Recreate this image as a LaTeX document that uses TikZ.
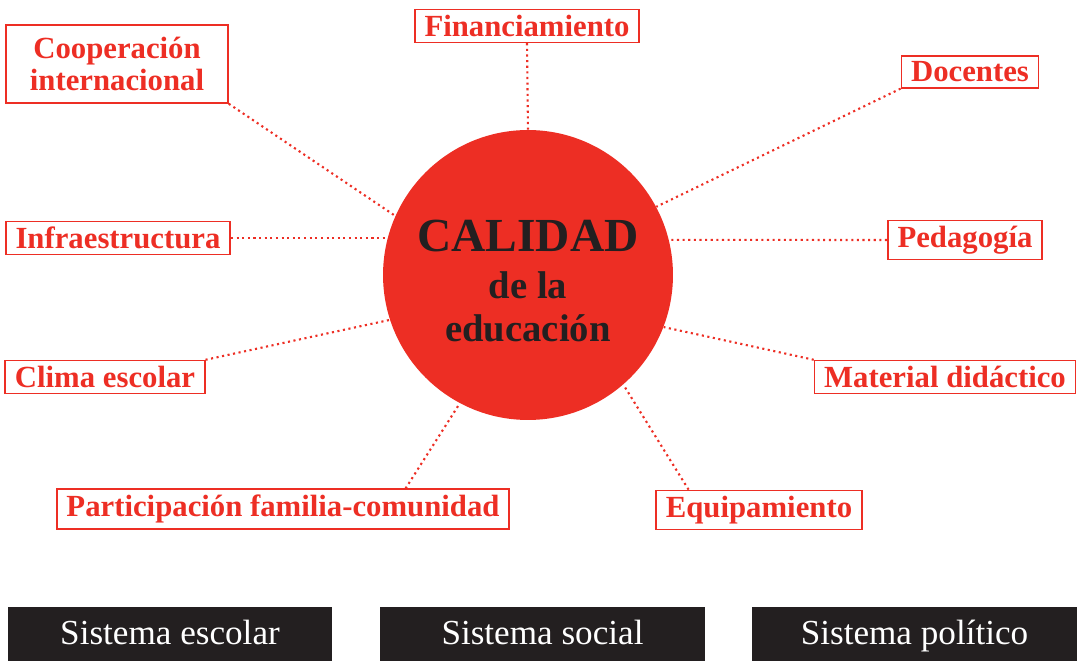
\documentclass[tikz,border=0pt]{standalone}
\usepackage{fontspec}
\setmainfont{Liberation Serif}
\definecolor{calred}{RGB}{237,46,36}
\definecolor{sysdark}{RGB}{35,31,32}
\usetikzlibrary{calc}
\usetikzlibrary{positioning}
\tikzset{
  factor/.style={draw=calred, line width=0.9pt, text=calred,
    font=\bfseries\fontsize{17.5}{18}\selectfont, inner xsep=5.5pt, inner ysep=3.2pt},
  link/.style={calred, dotted, line width=1.2pt},
  sistema/.style={fill=sysdark, text=white, font=\fontsize{20}{22}\selectfont,
    minimum width=6.5cm, minimum height=1.08cm, inner sep=0pt,
    text height=14pt, text depth=2pt}
}

\begin{document}
\begin{tikzpicture}[x=0.02cm, y=-0.02cm]
  \useasboundingbox (0,0) rectangle (1077,661);

  \node [circle, fill=calred, minimum size=5.8cm, inner sep=0pt, align=center,
  text=sysdark, font=\bfseries\fontsize{22}{25}\selectfont] (calidad) at (528,275)
  {\rule{0pt}{25pt}{\fontsize{27}{27}\selectfont CALIDAD}\\[1.5pt] de la\\ educación};

  \node [factor] (finan) at (527,26) {Financiamiento};
  \node [factor, align=center, minimum width=4.44cm, minimum height=1.56cm]
  (coop) at (117,64) {Cooperación\\ internacional};
  \node [factor] (docen) at (970,72) {Docentes};
  \node [factor] (infra) at (118,238) {Infraestructura};
  \node [factor] (pedag) at (965,240) {Pedagogía};
  \node [factor] (clima) at (105,377) {Clima escolar};
  \node [factor] (material) at (945,377) {Material didáctico};
  \node [factor] (famcom) at (283,509) {Participación familia-comunidad};
  \node [factor] (equip) at (759,510) {Equipamiento};

  \draw [link] (finan.south) -- (calidad.north);
  \draw [link] (coop.south east) -- (calidad.156);
  \draw [link] (infra.east) -- (infra.east -| calidad.165);
  \draw [link] (clima.north east) -- (calidad.198);
  \draw [link] ($(famcom.north west)!0.77!(famcom.north east)$) -- (calidad.242);
  \draw [link] (docen.south west) -- (calidad.28);
  \draw [link] (pedag.west) -- (calidad.14);
  \draw [link] (material.north west) -- (calidad.-21);
  \draw [link] ($(equip.north west)!0.16!(equip.north east)$) -- (calidad.-49);

  \node [sistema] (escolar) at (170,634) {Sistema escolar};
  \node [sistema] (social) at (542.5,634) {Sistema social};
  \node [sistema] (politico) at (914.5,634) {Sistema político};

\end{tikzpicture}
\end{document}
